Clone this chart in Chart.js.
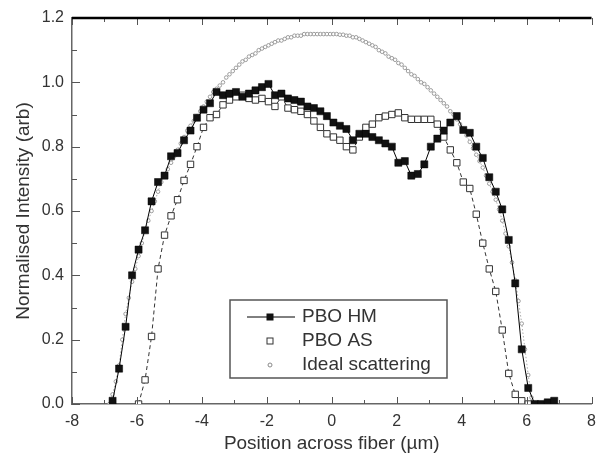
<!DOCTYPE html>
<html>
<head>
<meta charset="utf-8">
<script src="https://cdn.jsdelivr.net/npm/chart.js@4.4.1/dist/chart.umd.min.js"></script>
<style>
  html, body { margin: 0; padding: 0; background: #fff; }
</style>
</head>
<body>
<canvas id="fiberChart" width="604" height="459"></canvas>
<script>
// sample positions (um) for the two measured fibres
const coarsePositions = [
  -6.75, -6.55, -6.35, -6.15, -5.95, -5.75, -5.55, -5.35, -5.15, -4.95,
  -4.75, -4.55, -4.35, -4.15, -3.95, -3.75, -3.55, -3.35, -3.15, -2.95,
  -2.75, -2.55, -2.35, -2.15, -1.95, -1.75, -1.55, -1.35, -1.15, -0.95,
  -0.75, -0.55, -0.35, -0.15, 0.05, 0.25, 0.45, 0.65, 0.85, 1.05,
  1.25, 1.45, 1.65, 1.85, 2.05, 2.25, 2.45, 2.65, 2.85, 3.05,
  3.25, 3.45, 3.65, 3.85, 4.05, 4.25, 4.45, 4.65, 4.85, 5.05,
  5.25, 5.45, 5.65, 5.85, 6.05, 6.25, 6.45, 6.65, 6.85
];

const pboHM = [
  0.01, 0.11, 0.24, 0.40, 0.48, 0.54, 0.63, 0.69, 0.71, 0.77,
  0.78, 0.82, 0.85, 0.89, 0.915, 0.935, 0.97, 0.96, 0.965, 0.97,
  0.955, 0.965, 0.975, 0.985, 0.995, 0.96, 0.965, 0.95, 0.945, 0.94,
  0.925, 0.92, 0.91, 0.895, 0.875, 0.865, 0.855, 0.82, 0.84, 0.84,
  0.83, 0.82, 0.81, 0.80, 0.75, 0.755, 0.71, 0.715, 0.745, 0.80,
  0.825, 0.85, 0.875, 0.895, 0.852, 0.843, 0.80, 0.765, 0.705, 0.66,
  0.605, 0.51, 0.375, 0.17, 0.05, 0.0, 0.0, 0.005, 0.01
];

const pboAS = [
  null, null, null, null, 0.0, 0.075, 0.21, 0.42, 0.525, 0.585,
  0.635, 0.695, 0.745, 0.80, 0.86, 0.89, 0.90, 0.93, 0.945, 0.955,
  0.96, 0.95, 0.945, 0.95, 0.94, 0.925, 0.955, 0.92, 0.915, 0.91,
  0.90, 0.88, 0.86, 0.84, 0.83, 0.82, 0.80, 0.79, 0.83, 0.86,
  0.87, 0.89, 0.895, 0.90, 0.905, 0.89, 0.885, 0.885, 0.885, 0.885,
  0.87, 0.83, 0.79, 0.75, 0.69, 0.67, 0.59, 0.50, 0.42, 0.35,
  0.23, 0.095, 0.03, 0.01, 0.0, null, null, null, null
];

// ideal scattering curve is sampled more finely
const finePositions = [
  -6.85, -6.75, -6.65, -6.55, -6.45, -6.35, -6.25, -6.15, -6.05, -5.95,
  -5.85, -5.75, -5.65, -5.55, -5.45, -5.35, -5.25, -5.15, -5.05, -4.95,
  -4.85, -4.75, -4.65, -4.55, -4.45, -4.35, -4.25, -4.15, -4.05, -3.95,
  -3.85, -3.75, -3.65, -3.55, -3.45, -3.35, -3.25, -3.15, -3.05, -2.95,
  -2.85, -2.75, -2.65, -2.55, -2.45, -2.35, -2.25, -2.15, -2.05, -1.95,
  -1.85, -1.75, -1.65, -1.55, -1.45, -1.35, -1.25, -1.15, -1.05, -0.95,
  -0.85, -0.75, -0.65, -0.55, -0.45, -0.35, -0.25, -0.15, -0.05, 0.05,
  0.15, 0.25, 0.35, 0.45, 0.55, 0.65, 0.75, 0.85, 0.95, 1.05,
  1.15, 1.25, 1.35, 1.45, 1.55, 1.65, 1.75, 1.85, 1.95, 2.05,
  2.15, 2.25, 2.35, 2.45, 2.55, 2.65, 2.75, 2.85, 2.95, 3.05,
  3.15, 3.25, 3.35, 3.45, 3.55, 3.65, 3.75, 3.85, 3.95, 4.05,
  4.15, 4.25, 4.35, 4.45, 4.55, 4.65, 4.75, 4.85, 4.95, 5.05,
  5.15, 5.25, 5.35, 5.45, 5.55, 5.65, 5.75, 5.85, 5.95, 6.05,
  6.15
];

const idealScattering = [
  0.00, 0.03, 0.07, 0.12, 0.20, 0.28, 0.33, 0.38, 0.42, 0.46,
  0.50, 0.54, 0.57, 0.60, 0.63, 0.66, 0.69, 0.71, 0.73, 0.75,
  0.77, 0.79, 0.81, 0.83, 0.85, 0.865, 0.88, 0.895, 0.91, 0.925,
  0.94, 0.955, 0.97, 0.98, 0.99, 1.00, 1.015, 1.025, 1.035, 1.045,
  1.055, 1.065, 1.07, 1.08, 1.085, 1.09, 1.10, 1.105, 1.11, 1.115,
  1.12, 1.125, 1.13, 1.13, 1.135, 1.14, 1.14, 1.145, 1.145, 1.145,
  1.15, 1.15, 1.15, 1.15, 1.15, 1.15, 1.15, 1.15, 1.15, 1.15,
  1.15, 1.148, 1.148, 1.145, 1.145, 1.14, 1.14, 1.135, 1.13, 1.125,
  1.12, 1.115, 1.11, 1.10, 1.095, 1.09, 1.08, 1.075, 1.07, 1.06,
  1.055, 1.045, 1.035, 1.025, 1.02, 1.01, 1.00, 0.995, 0.985, 0.975,
  0.965, 0.955, 0.945, 0.935, 0.925, 0.91, 0.90, 0.885, 0.87, 0.855,
  0.835, 0.815, 0.795, 0.775, 0.755, 0.735, 0.71, 0.685, 0.66, 0.635,
  0.605, 0.57, 0.53, 0.49, 0.44, 0.385, 0.32, 0.25, 0.17, 0.09,
  0.02
];

const xTicks = [-8, -6, -4, -2, 0, 2, 4, 6, 8];
const yTicks = [0, 0.2, 0.4, 0.6, 0.8, 1.0, 1.2];
const seriesNames = ["PBO HM", "PBO AS", "Ideal scattering"];

const FONT = "'Liberation Sans', Arial, sans-serif";
const TEXT = "#333";

function toPoints(xs, ys) {
    return xs.map((x, i) => ({ x: x, y: ys[i] })).filter(p => p.y !== null);
}

// inward tick marks on all sides plus the heavy top frame line
const frameTicks = {
    id: "frameTicks",
    afterDraw(chart) {
        const { ctx, chartArea: a, scales: { x, y } } = chart;
        ctx.save();
        ctx.strokeStyle = "#555";
        ctx.lineWidth = 1;
        ctx.beginPath();
        for (let v = -8; v <= 8; v++) {
            const px = Math.round(x.getPixelForValue(v)) + 0.5;
            const len = v % 2 === 0 ? 7 : 4;
            ctx.moveTo(px, a.bottom);
            ctx.lineTo(px, a.bottom - len);
            ctx.moveTo(px, a.top);
            ctx.lineTo(px, a.top + len);
        }
        for (let i = 0; i <= 12; i++) {
            const py = Math.round(y.getPixelForValue(i / 10)) + 0.5;
            const len = i % 2 === 0 ? 8 : 5;
            ctx.moveTo(a.left, py);
            ctx.lineTo(a.left + len, py);
        }
        ctx.stroke();

        ctx.strokeStyle = "#000";
        ctx.lineWidth = 2.5;
        ctx.beginPath();
        ctx.moveTo(a.left, a.top);
        ctx.lineTo(a.right, a.top);
        ctx.stroke();
        ctx.restore();
    }
};

// boxed legend inside the plot, drawn like the original
const boxLegend = {
    id: "boxLegend",
    afterDraw(chart) {
        const ctx = chart.ctx;
        const bx = 230, by = 300, bw = 217, bh = 78;
        ctx.save();
        ctx.strokeStyle = "#555";
        ctx.lineWidth = 1.5;
        ctx.strokeRect(bx, by, bw, bh);

        const symX = 270;
        const rows = [317, 341, 365];

        // PBO HM
        ctx.strokeStyle = "#000";
        ctx.lineWidth = 1;
        ctx.beginPath();
        ctx.moveTo(247, rows[0]);
        ctx.lineTo(295, rows[0]);
        ctx.stroke();
        ctx.fillStyle = "#111";
        ctx.fillRect(symX - 3.5, rows[0] - 3.5, 7, 7);

        // PBO AS
        ctx.strokeStyle = "#333";
        ctx.strokeRect(symX - 3, rows[1] - 3, 6, 6);

        // Ideal scattering
        ctx.strokeStyle = "#888";
        ctx.beginPath();
        ctx.arc(symX, rows[2], 2, 0, Math.PI * 2);
        ctx.stroke();

        ctx.fillStyle = TEXT;
        ctx.font = "19px " + FONT;
        ctx.textBaseline = "middle";
        seriesNames.forEach((name, i) => ctx.fillText(name, 302, rows[i]));
        ctx.restore();
    }
};

const ctx = document.getElementById("fiberChart");

new Chart(ctx, {
    type: "line",
    data: {
        datasets: [{
            label: seriesNames[0],
            data: toPoints(coarsePositions, pboHM),
            borderColor: "#000",
            borderWidth: 1,
            backgroundColor: "#111",
            pointStyle: "rect",
            pointRadius: 5,
            pointBorderWidth: 0.5,
            pointBorderColor: "#000",
            pointBackgroundColor: "#111",
        }, {
            label: seriesNames[1],
            data: toPoints(coarsePositions, pboAS),
            borderColor: "#333",
            borderWidth: 1,
            borderDash: [4, 3],
            pointStyle: "rect",
            pointRadius: 4.5,
            pointBorderWidth: 1,
            pointBorderColor: "#333",
            pointBackgroundColor: "#fff",
        }, {
            label: seriesNames[2],
            data: toPoints(finePositions, idealScattering),
            borderColor: "#aaa",
            borderWidth: 1,
            borderDash: [1.5, 2],
            pointStyle: "circle",
            pointRadius: 1.8,
            pointBorderWidth: 0.8,
            pointBorderColor: "#888",
            pointBackgroundColor: "#fff",
        }],
    },
    options: {
        responsive: false,
        animation: false,
        layout: {
            padding: { top: 18, right: 10, left: 0, bottom: 0 }
        },
        elements: {
            line: { tension: 0, fill: false }
        },
        plugins: {
            legend: { display: false },
            tooltip: { enabled: false },
        },
        scales: {
            x: {
                type: "linear",
                min: -8,
                max: 8,
                afterBuildTicks: s => { s.ticks = xTicks.map(v => ({ value: v })); },
                afterFit: s => { s.height = 55; },
                ticks: {
                    color: TEXT,
                    font: { family: FONT, size: 16 },
                    padding: 8,
                    maxRotation: 0,
                    autoSkip: false,
                },
                grid: { display: false, drawTicks: false },
                border: { display: true, color: "#666", width: 1.5 },
                title: {
                    display: true,
                    text: "Position across fiber (µm)",
                    color: TEXT,
                    font: { family: FONT, size: 19 },
                    padding: { top: 0, bottom: 4 },
                },
            },
            y: {
                type: "linear",
                min: 0,
                max: 1.2,
                afterBuildTicks: s => { s.ticks = yTicks.map(v => ({ value: v })); },
                afterFit: s => { s.width = 72; },
                ticks: {
                    color: TEXT,
                    font: { family: FONT, size: 16 },
                    padding: 8,
                    callback: v => v.toFixed(1),
                },
                grid: { display: false, drawTicks: false },
                border: { display: true, color: "#666", width: 1.5 },
                title: {
                    display: true,
                    text: "Normalised Intensity (arb)",
                    color: TEXT,
                    font: { family: FONT, size: 19 },
                    padding: { top: 12, bottom: 0 },
                },
            },
        },
    },
    plugins: [frameTicks, boxLegend]
});
</script>
</body>
</html>
